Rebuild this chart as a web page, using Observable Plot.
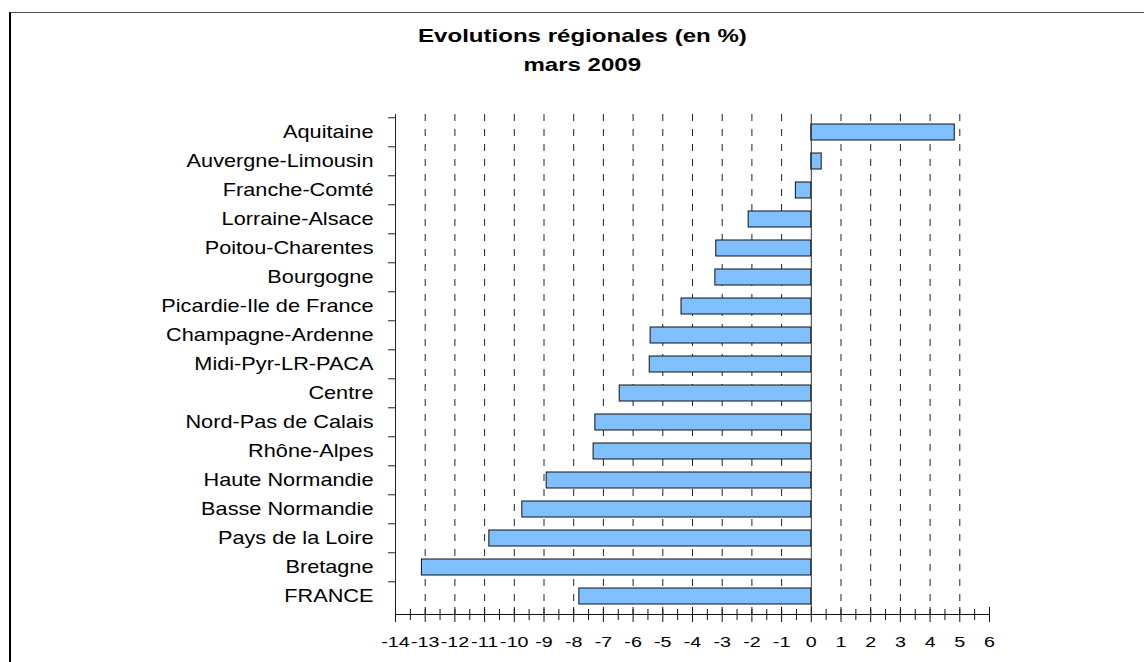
<!DOCTYPE html>
<html>
<head>
<meta charset="utf-8">
<script src="https://cdn.jsdelivr.net/npm/d3@7"></script>
<script src="https://cdn.jsdelivr.net/npm/@observablehq/plot@0.6"></script>
<style>
  html, body { margin: 0; padding: 0; background: #fff; }
  #wrap { position: relative; width: 1144px; height: 662px; overflow: hidden; font-family: "Liberation Sans", Arial, sans-serif; }
  #frame { position: absolute; left: 9px; top: 12px; width: 1200px; height: 700px; border-left: 2px solid #000; border-top: 1px solid #555; }
  #title { position: absolute; left: 0; width: 1164px; top: 21px; text-align: center; font-weight: bold; font-size: 18.5px; line-height: 29px; color: #000; }
  #title span { display: inline-block; transform: scaleX(1.3); transform-origin: 50% 50%; }
  #chart { position: absolute; left: 0; top: 0; }
</style>
</head>
<body>
<div id="wrap">
  <div id="frame"></div>
  <div id="chart"></div>
  <div id="title"><span>Evolutions régionales (en %)</span><br><span>mars 2009</span></div>
</div>
<script>
const regions = ["Aquitaine", "Auvergne-Limousin", "Franche-Comté", "Lorraine-Alsace", "Poitou-Charentes", "Bourgogne", "Picardie-Ile de France", "Champagne-Ardenne", "Midi-Pyr-LR-PACA", "Centre", "Nord-Pas de Calais", "Rhône-Alpes", "Haute Normandie", "Basse Normandie", "Pays de la Loire", "Bretagne", "FRANCE"];
const values = [4.83, 0.35, -0.52, -2.11, -3.2, -3.23, -4.37, -5.41, -5.44, -6.45, -7.27, -7.33, -8.91, -9.73, -10.84, -13.11, -7.81];
const xTicks = [-14, -13, -12, -11, -10, -9, -8, -7, -6, -5, -4, -3, -2, -1, 0, 1, 2, 3, 4, 5, 6];
const gridTicks = [-13, -12, -11, -10, -9, -8, -7, -6, -5, -4, -3, -2, -1, 1, 2, 3, 4, 5];
const minorTicks = [-13.5, -12.5, -11.5, -10.5, -9.5, -8.5, -7.5, -6.5, -5.5, -4.5, -3.5, -2.5, -1.5, -0.5, 0.5, 1.5, 2.5, 3.5, 4.5, 5.5];

const data = regions.map((r, i) => ({region: r, value: values[i]}));

const W = 1144, H = 662, mL = 395, mR = 155, mT = 114, mB = 48;
const innerH = H - mT - mB, innerW = W - mL - mR;
const step = innerH / regions.length;

const chart = Plot.plot({
  width: W, height: H,
  marginLeft: mL, marginRight: mR, marginTop: mT, marginBottom: mB,
  style: {fontFamily: "'Liberation Sans', Arial, sans-serif", background: "transparent"},
  x: {domain: [-14, 6], label: null},
  y: {domain: regions, paddingInner: 0.44, paddingOuter: 0.22, label: null},
  marks: [
    Plot.ruleX(gridTicks, {x: d => d, stroke: "#222", strokeWidth: 1, strokeDasharray: "7,8"}),
    Plot.barX(data, {x: "value", y: "region", fill: "#80c0ff", stroke: "#111", strokeWidth: 1}),
    Plot.ruleX([0], {stroke: "#333", strokeWidth: 1}),
    Plot.frame({anchor: "left", stroke: "#222"}),
    Plot.frame({anchor: "bottom", stroke: "#111"}),
    Plot.ruleX(xTicks, {x: d => d, stroke: "#111", insetTop: innerH - 7, insetBottom: -8}),
    Plot.ruleX(minorTicks, {x: d => d, stroke: "#111", insetTop: innerH - 5, insetBottom: -6}),
    Plot.ruleY(regions, {y: d => d, dy: -step / 2, stroke: "#222", insetLeft: -7, insetRight: innerW}),
    Plot.axisX({ticks: xTicks, tickSize: 0, tickPadding: 21, tickFormat: d => String(d), fontSize: 15.5, fill: "#000", label: null}),
    Plot.axisY({tickSize: 0, tickPadding: 22, fontSize: 17.5, fill: "#000", label: null})
  ]
});

// horizontal stretch of the text glyphs, as in the reference rendering
function stretch(el, s) {
  const x = el.getAttribute("x");
  if (x !== null && !isNaN(+x)) el.setAttribute("x", +x / s);
  const t = el.getAttribute("transform") || "";
  el.setAttribute("transform", (t + ` scale(${s},1)`).trim());
}
chart.querySelectorAll("text").forEach(el => stretch(el, el.closest("[aria-label='y-axis tick label']") ? 1.24 : 1.27));

document.getElementById("chart").appendChild(chart);
</script>
</body>
</html>
